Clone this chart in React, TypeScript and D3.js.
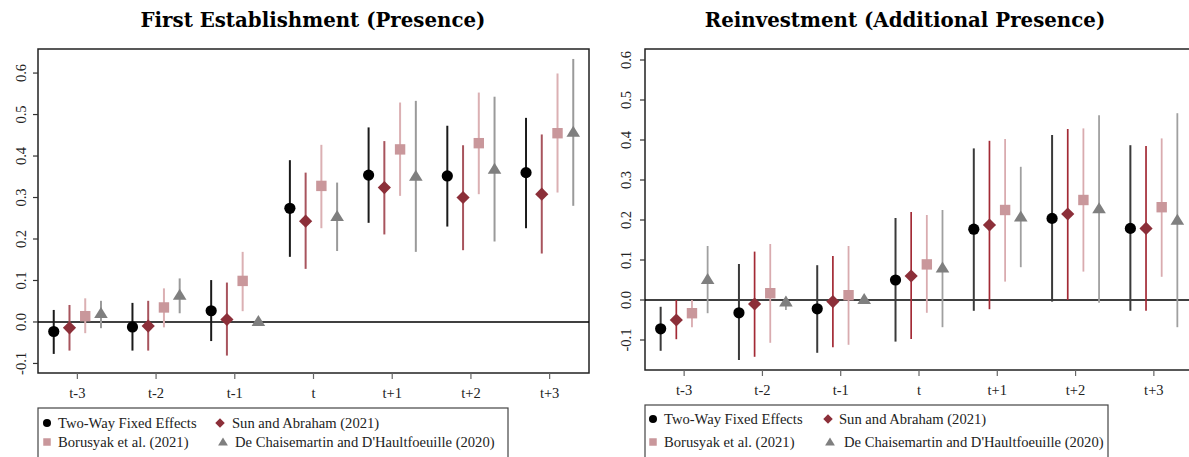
import React from "react";
import * as d3 from "d3";

const periods = ["t-3", "t-2", "t-1", "t", "t+1", "t+2", "t+3"];
const yTicks = [-0.1, 0.0, 0.1, 0.2, 0.3, 0.4, 0.5, 0.6];

// First Establishment (Presence)
const estTwfe = [-0.023, -0.012, 0.027, 0.274, 0.354, 0.352, 0.36];
const estTwfeLo = [-0.077, -0.069, -0.046, 0.157, 0.239, 0.23, 0.226];
const estTwfeHi = [0.029, 0.046, 0.101, 0.39, 0.469, 0.473, 0.492];
const estSa = [-0.014, -0.01, 0.006, 0.243, 0.324, 0.3, 0.308];
const estSaLo = [-0.069, -0.069, -0.081, 0.128, 0.211, 0.173, 0.165];
const estSaHi = [0.041, 0.051, 0.095, 0.36, 0.436, 0.426, 0.452];
const estBor = [0.014, 0.035, 0.099, 0.328, 0.416, 0.431, 0.455];
const estBorLo = [-0.027, -0.013, 0.026, 0.226, 0.304, 0.308, 0.312];
const estBorHi = [0.057, 0.081, 0.169, 0.427, 0.529, 0.553, 0.599];
const estDcdh = [0.021, 0.065, 0.002, 0.255, 0.352, 0.369, 0.458];
const estDcdhLo = [-0.015, 0.021, 0.002, 0.171, 0.169, 0.194, 0.28];
const estDcdhHi = [0.051, 0.105, 0.002, 0.336, 0.533, 0.543, 0.634];

// Reinvestment (Additional Presence)
const rinTwfe = [-0.072, -0.032, -0.022, 0.05, 0.177, 0.204, 0.179];
const rinTwfeLo = [-0.127, -0.15, -0.132, -0.104, -0.027, -0.004, -0.027];
const rinTwfeHi = [-0.017, 0.09, 0.087, 0.205, 0.379, 0.4125, 0.387];
const rinSa = [-0.05, -0.01, -0.004, 0.06, 0.1875, 0.215, 0.179];
const rinSaLo = [-0.098, -0.142, -0.118, -0.0975, -0.023, 0.0, -0.027];
const rinSaHi = [0.0, 0.121, 0.11, 0.22, 0.398, 0.4275, 0.385];
const rinBor = [-0.033, 0.017, 0.012, 0.089, 0.225, 0.25, 0.232];
const rinBorLo = [-0.068, -0.107, -0.112, -0.032, 0.046, 0.071, 0.058];
const rinBorHi = [0.0, 0.14, 0.135, 0.2125, 0.4025, 0.429, 0.404];
const rinDcdh = [0.052, -0.004, 0.002, 0.081, 0.208, 0.229, 0.2];
const rinDcdhLo = [-0.033, -0.025, 0.002, -0.068, 0.082, -0.007, -0.068];
const rinDcdhHi = [0.135, 0.008, 0.002, 0.225, 0.333, 0.462, 0.467];

const seriesNames = [
  "Two-Way Fixed Effects",
  "Sun and Abraham (2021)",
  "Borusyak et al. (2021)",
  "De Chaisemartin and D'Haultfoeuille (2020)",
];
const seriesOffsets = [-0.3, -0.1, 0.1, 0.3];
const markerColors = ["#000000", "#8c2f39", "#c9979b", "#7f7f7f"];
const shapes = ["circle", "diamond", "square", "triangle"];

const SERIF = "'Liberation Serif', 'DejaVu Serif', serif";
const TITLE_SERIF = "'DejaVu Serif', 'Liberation Serif', serif";

function Marker({ shape, x, y, color, s = 1 }) {
  if (shape === "circle") return <circle cx={x} cy={y} r={5.6 * s} fill={color} />;
  if (shape === "diamond") {
    const r = 6.6 * s;
    return <path d={`M${x},${y - r}L${x + r},${y}L${x},${y + r}L${x - r},${y}Z`} fill={color} />;
  }
  if (shape === "square") {
    const h = 5.2 * s;
    return <rect x={x - h} y={y - h} width={2 * h} height={2 * h} fill={color} />;
  }
  const w = 6.8 * s;
  return <path d={`M${x},${y - 6.2 * s}L${x + w},${y + 4.8 * s}L${x - w},${y + 4.8 * s}Z`} fill={color} />;
}

function Panel({ title, titleX, x0, x1, yTop, yBot, yMin, yMax, data, lineColors, lineWidths, labelX, tickLabelY, legend }) {
  const xs = d3.scaleLinear().domain([-0.5, 6.5]).range([x0, x1]);
  const ys = d3.scaleLinear().domain([yMin, yMax]).range([yBot, yTop]);
  return (
    <g>
      <text x={titleX} y={27} textAnchor="middle" fontFamily={TITLE_SERIF} fontWeight="bold" fontSize={19.8}>
        {title}
      </text>
      {/* frame */}
      <rect x={x0} y={yTop} width={x1 - x0} height={yBot - yTop} fill="none" stroke="#222" strokeWidth={1.5} />
      {/* y ticks */}
      {yTicks.map((t) => (
        <g key={t}>
          <line x1={x0 - 5} x2={x0} y1={ys(t)} y2={ys(t)} stroke="#333" strokeWidth={1.2} />
          <text
            transform={`translate(${labelX},${ys(t)}) rotate(-90)`}
            textAnchor="middle"
            fontFamily={SERIF}
            fontSize={14.5}
            fill="#222"
          >
            {t.toFixed(1)}
          </text>
        </g>
      ))}
      {/* x ticks */}
      {periods.map((p, i) => (
        <g key={p}>
          <line x1={xs(i)} x2={xs(i)} y1={yBot} y2={yBot + 6} stroke="#666" strokeWidth={1.2} />
          <text x={xs(i)} y={tickLabelY} textAnchor="middle" fontFamily={SERIF} fontSize={14.5} fill="#222">
            {p}
          </text>
        </g>
      ))}
      {/* zero line */}
      <line x1={x0} x2={x1} y1={ys(0)} y2={ys(0)} stroke="#000" strokeWidth={1.5} />
      {/* CI lines */}
      {data.map((s, si) =>
        s.est.map((v, i) => (
          <line
            key={`l${si}-${i}`}
            x1={xs(i + seriesOffsets[si])}
            x2={xs(i + seriesOffsets[si])}
            y1={ys(s.lo[i])}
            y2={ys(s.hi[i])}
            stroke={lineColors[si]}
            strokeWidth={lineWidths[si]}
          />
        ))
      )}
      {/* markers */}
      {data.map((s, si) =>
        s.est.map((v, i) => (
          <Marker key={`m${si}-${i}`} shape={shapes[si]} x={xs(i + seriesOffsets[si])} y={ys(v)} color={markerColors[si]} />
        ))
      )}
      {/* legend */}
      <rect x={legend.x} y={legend.y} width={legend.w} height={60} fill="#fff" stroke="#444" strokeWidth={1.2} />
      {seriesNames.map((name, i) => {
        const row = Math.floor(i / 2);
        const mx = legend.mx[i];
        const my = legend.rows[row];
        return (
          <g key={name}>
            <Marker shape={shapes[i]} x={mx} y={my} color={markerColors[i]} s={0.72} />
            <text x={legend.tx[i]} y={my + 5} fontFamily={SERIF} fontSize={14.6} fill="#222">
              {name}
            </text>
          </g>
        );
      })}
    </g>
  );
}

export default function App() {
  const estData = [
    { est: estTwfe, lo: estTwfeLo, hi: estTwfeHi },
    { est: estSa, lo: estSaLo, hi: estSaHi },
    { est: estBor, lo: estBorLo, hi: estBorHi },
    { est: estDcdh, lo: estDcdhLo, hi: estDcdhHi },
  ];
  const rinData = [
    { est: rinTwfe, lo: rinTwfeLo, hi: rinTwfeHi },
    { est: rinSa, lo: rinSaLo, hi: rinSaHi },
    { est: rinBor, lo: rinBorLo, hi: rinBorHi },
    { est: rinDcdh, lo: rinDcdhLo, hi: rinDcdhHi },
  ];
  return (
    <svg width={1189} height={457} style={{ position: "absolute", left: 0, top: 0, background: "#fff" }}>
      <rect x={0} y={0} width={1189} height={457} fill="#fff" />
      <Panel
        title="First Establishment (Presence)"
        titleX={313}
        x0={38}
        x1={589}
        yTop={49}
        yBot={373}
        yMin={-0.123}
        yMax={0.658}
        data={estData}
        lineColors={["#1a1a1a", "#a8545d", "#dbb0b3", "#9a9a9a"]}
        lineWidths={[2, 2, 2, 2]}
        labelX={26}
        tickLabelY={398}
        legend={{ x: 38, y: 408, w: 470, rows: [423, 442], mx: [47, 220, 47, 223], tx: [58, 232, 58, 235] }}
      />
      <Panel
        title="Reinvestment (Additional Presence)"
        titleX={905}
        x0={645}
        x1={1193}
        yTop={49}
        yBot={370}
        yMin={-0.175}
        yMax={0.6275}
        data={rinData}
        lineColors={["#3a3a3a", "#a32a35", "#d9abaf", "#a0a0a0"]}
        lineWidths={[2, 1.7, 1.8, 1.8]}
        labelX={631}
        tickLabelY={395}
        legend={{ x: 645, y: 405, w: 463, rows: [419, 442], mx: [653, 828, 653, 830], tx: [664, 839, 664, 844] }}
      />
    </svg>
  );
}
